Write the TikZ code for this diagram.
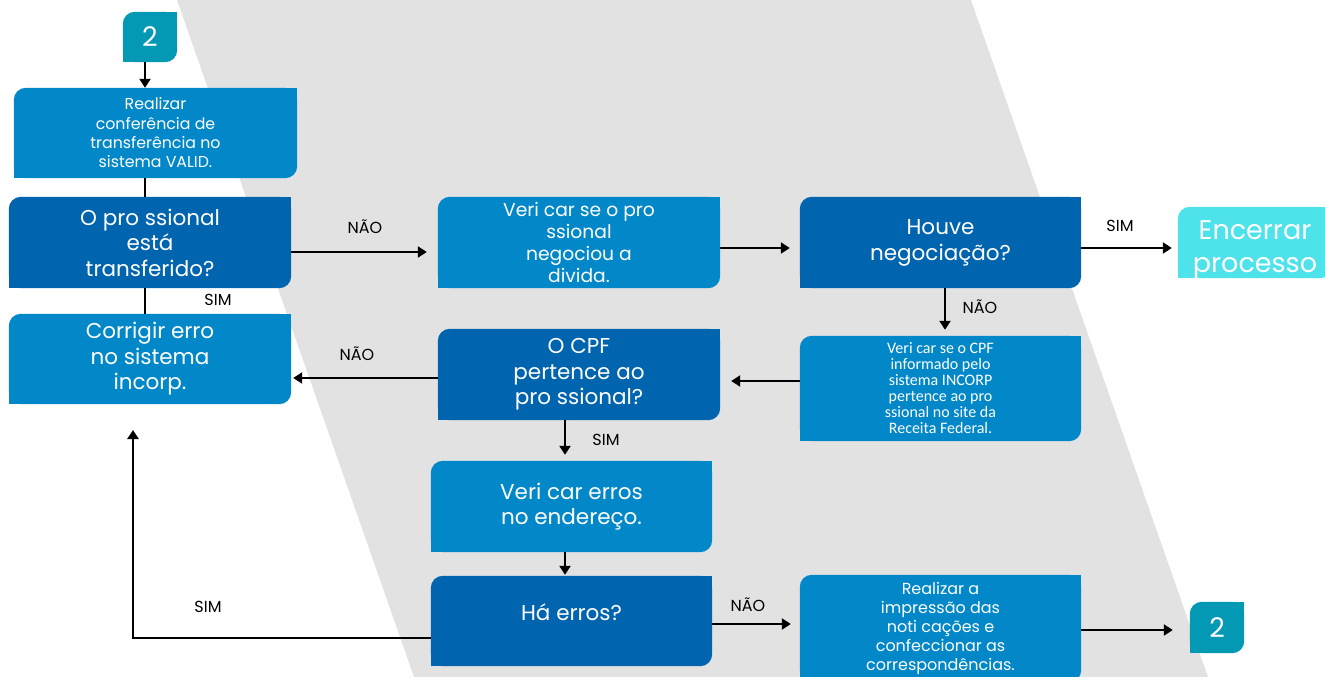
\documentclass[tikz,border=0pt]{standalone}
\usepackage{fontspec}
\setmainfont{Poppins}
\newfontfamily\condfont{Carlito}
\usetikzlibrary{arrows.meta,backgrounds}
\definecolor{midblue}{HTML}{0288C9}
\definecolor{darkblue}{HTML}{0064AE}
\definecolor{tealc}{HTML}{0399B5}
\definecolor{cyanc}{HTML}{4EE2EA}
\definecolor{bandgray}{HTML}{E2E2E2}
\tikzset{
  box/.style={shape=rectangle, inner sep=0pt, align=center, text=white},
  bigtxt/.style={font=\fontsize{21.5}{25.5}\selectfont},
  lbl/.style={font=\fontsize{16}{18}\selectfont, text=black, inner sep=0pt},
  arr/.style={line width=2.8pt, -{Triangle[width=11pt,length=9pt]}},
  ln/.style={line width=2.8pt},
}
\newcommand\leafbg[2]{%
  \begin{pgfonlayer}{background}
    \fill[#2, rounded corners=12pt] (#1.south west) rectangle (#1.north east);
    \fill[#2] (#1.north east) rectangle ++(-13pt,-13pt);
    \fill[#2] (#1.south west) rectangle ++(13pt,13pt);
  \end{pgfonlayer}}
\newcommand\lines[2]{\raisebox{#1}{\begin{tabular}{@{}c@{}}#2\end{tabular}}}
\newcommand\shiftlines[2]{\raisebox{#1}[0pt][0pt]{\begin{tabular}{@{}c@{}}#2\end{tabular}}}
\begin{document}
\begin{tikzpicture}[x=1pt,y=-1pt]
\useasboundingbox (0,0) rectangle (1325,677);
\begin{pgfonlayer}{background}
  \fill[bandgray] (177,0) -- (971,0) -- (1208,677) -- (414,677) -- cycle;
\end{pgfonlayer}

% nodes
\node[box, minimum width=54pt, minimum height=50pt, font=\fontsize{27}{30}\selectfont] (two1) at (150,37) {2};
\leafbg{two1}{tealc}
\node[box, minimum width=283pt, minimum height=90pt, font=\fontsize{15.8}{19.3}\selectfont] (conf) at (155.5,133) {Realizar\\conferência de\\transferência no\\sistema VALID.};
\leafbg{conf}{midblue}
\node[box, bigtxt, minimum width=282pt, minimum height=91pt] (dec1) at (150,242.5) {O pro ssional\\está\\transferido?};
\leafbg{dec1}{darkblue}
\node[box, bigtxt, minimum width=282pt, minimum height=90pt] (corr) at (150,359) {\lines{3pt}{Corrigir erro\\no sistema\\incorp.}};
\leafbg{corr}{midblue}
\node[box, minimum width=282pt, minimum height=91pt, font=\fontsize{18.7}{22.3}\selectfont] (verneg) at (579,242.5) {Veri car se o pro\\ssional\\negociou a\\divida.};
\leafbg{verneg}{midblue}
\node[box, bigtxt, minimum width=281pt, minimum height=91pt] (houve) at (940.5,242.5) {\lines{1.5pt}{Houve\\negociação?}};
\leafbg{houve}{darkblue}
\node[box, minimum width=154pt, minimum height=71pt, font=\fontsize{27}{33}\selectfont] (encerrar) at (1255,242.5) {\shiftlines{-13pt}{Encerrar\\processo}};
\leafbg{encerrar}{cyanc}
\node[box, minimum width=281pt, minimum height=105pt, font=\condfont\fontsize{16}{16}\selectfont] (cpfchk) at (940.5,388.5) {Veri car se o CPF\\informado pelo\\sistema INCORP\\pertence ao pro\\ssional no site da\\Receita Federal.};
\leafbg{cpfchk}{midblue}
\node[box, bigtxt, minimum width=282pt, minimum height=91pt] (cpfdec) at (579,374.5) {O CPF\\pertence ao\\pro ssional?};
\leafbg{cpfdec}{darkblue}
\node[box, bigtxt, minimum width=281pt, minimum height=91pt] (vererr) at (571.5,506.5) {Veri car erros\\no endereço.};
\leafbg{vererr}{midblue}
\node[box, bigtxt, minimum width=281pt, minimum height=90pt] (haerr) at (571.5,621) {\raisebox{18pt}{Há erros?}};
\leafbg{haerr}{darkblue}
\node[box, minimum width=281pt, minimum height=107pt, font=\fontsize{16}{19}\selectfont] (impr) at (940.5,628.5) {Realizar a\\impressão das\\noti cações e\\confeccionar as\\correspondências.};
\leafbg{impr}{midblue}
\node[box, minimum width=54pt, minimum height=51pt, font=\fontsize{27}{30}\selectfont] (two2) at (1217,627.5) {2};
\leafbg{two2}{tealc}

% connectors
\draw[arr] ([xshift=-5pt]two1.south) -- ([xshift=-5pt]two1.south |- conf.north);
\draw[ln] ([xshift=-10.5pt]conf.south) -- ([xshift=-5pt]dec1.north);
\draw[ln] ([xshift=-5pt]dec1.south) -- ([xshift=-5pt]corr.north);
\node[lbl] (l1) at (218,300) {SIM};
\draw[arr, shorten >=11pt] (dec1.east |- 0,252) -- (verneg.west |- 0,252);
\node[lbl] (l2) at (365,227) {NÃO};
\draw[arr, shorten >=10pt] (verneg.east |- 0,248) -- (houve.west |- 0,248);
\draw[arr, shorten >=6pt] (houve.east |- 0,248) -- (encerrar.west |- 0,248);
\node[lbl] (l3) at (1120,226) {SIM};
\draw[arr, shorten >=6pt] ([xshift=4.5pt]houve.south) -- ([xshift=4.5pt]houve.south |- cpfchk.north);
\node[lbl] (l4) at (980,307) {NÃO};
\draw[arr, shorten >=11pt] (cpfchk.west |- 0,381) -- (cpfdec.east |- 0,381);
\draw[arr, shorten >=2pt] (cpfdec.west |- 0,378) -- (corr.east |- 0,378);
\node[lbl] (l5) at (357,354) {NÃO};
\draw[arr, shorten >=6pt] ([xshift=-14pt]cpfdec.south) -- ([xshift=-14pt]cpfdec.south |- vererr.north);
\node[lbl] (l6) at (606,440) {SIM};
\draw[arr, shorten >=1pt] ([xshift=-6.5pt]vererr.south) -- ([xshift=-6.5pt]haerr.north);
\coordinate (bend) at (133,638);
\coordinate (upend) at (133,430);
\draw[arr] (haerr.west |- bend) -- (bend) -- (upend);
\node[lbl] (l7) at (208,607) {SIM};
\draw[arr, shorten >=9pt] (haerr.east |- 0,624) -- (impr.west |- 0,624);
\node[lbl] (l8) at (748,605) {NÃO};
\draw[arr, shorten >=17pt] (impr.east |- 0,630) -- (two2.west |- 0,630);
\end{tikzpicture}
\end{document}
